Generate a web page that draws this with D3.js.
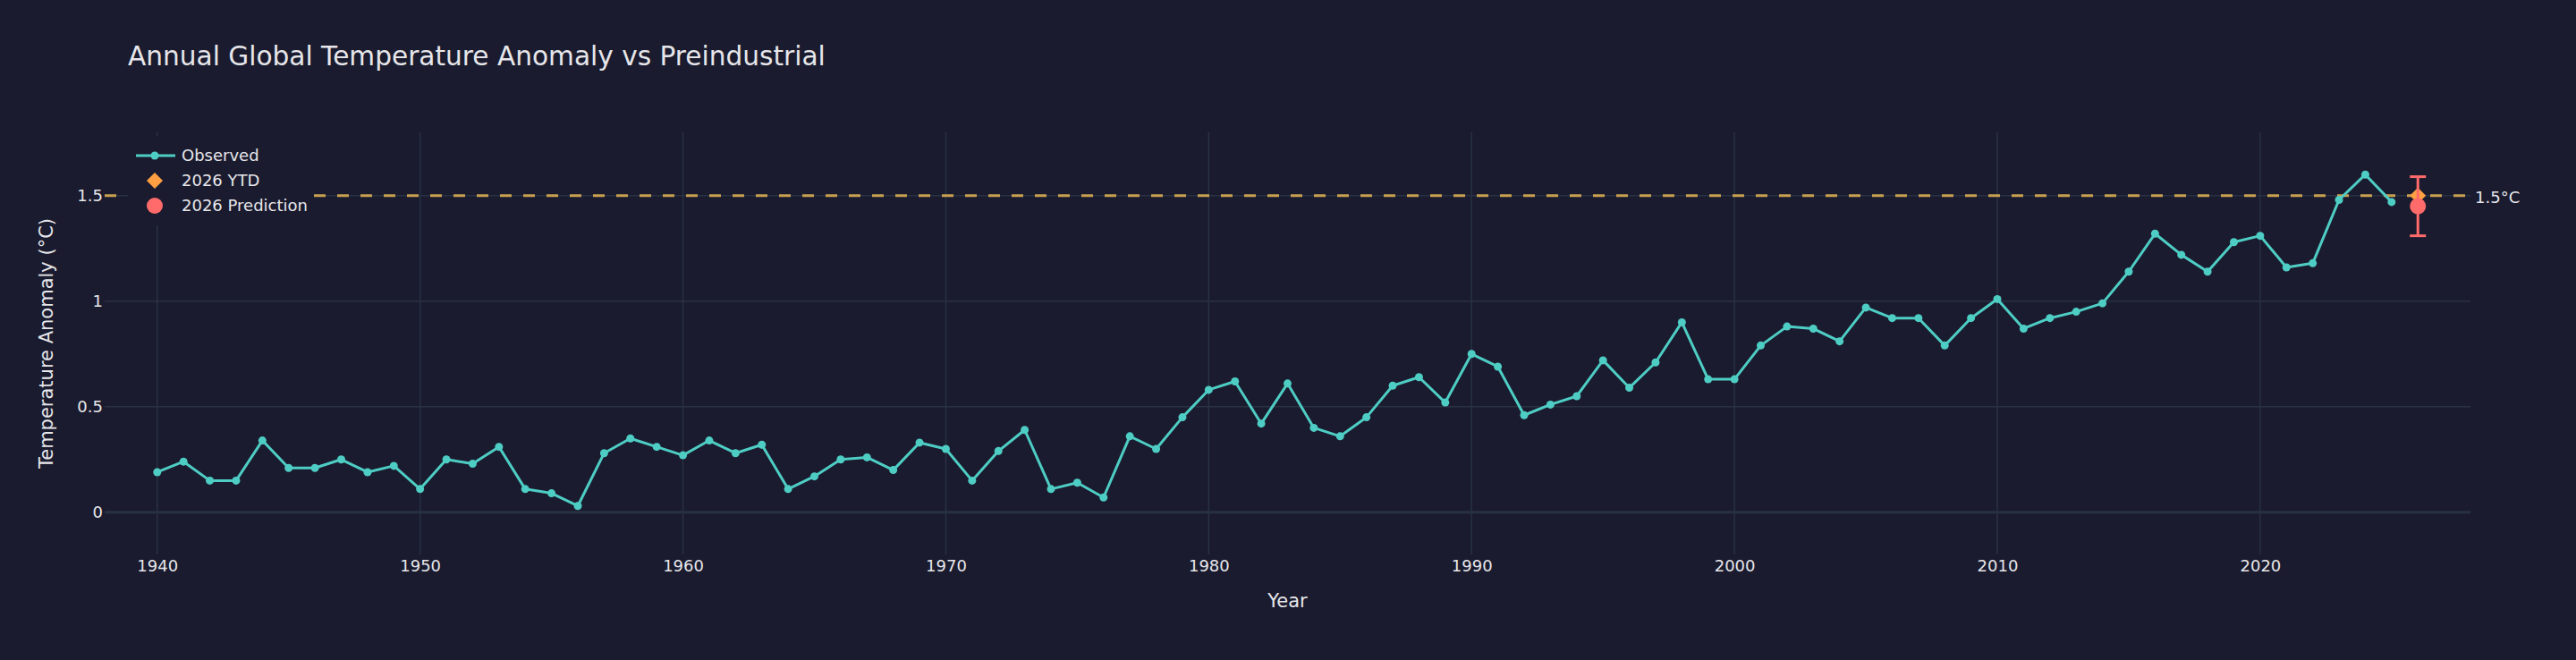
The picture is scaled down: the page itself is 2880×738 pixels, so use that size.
<!DOCTYPE html>
<html>
<head>
<meta charset="utf-8">
<script src="https://cdn.jsdelivr.net/npm/d3@7"></script>
<style>
  body { margin: 0; background: #1a1b2e; }
  svg { display: block; font-family: "DejaVu Sans", Verdana, sans-serif; }
</style>
</head>
<body>
<svg id="chart"></svg>
<script>
// data
var years = [
  1940, 1941, 1942, 1943, 1944, 1945, 1946, 1947, 1948, 1949,
  1950, 1951, 1952, 1953, 1954, 1955, 1956, 1957, 1958, 1959,
  1960, 1961, 1962, 1963, 1964, 1965, 1966, 1967, 1968, 1969,
  1970, 1971, 1972, 1973, 1974, 1975, 1976, 1977, 1978, 1979,
  1980, 1981, 1982, 1983, 1984, 1985, 1986, 1987, 1988, 1989,
  1990, 1991, 1992, 1993, 1994, 1995, 1996, 1997, 1998, 1999,
  2000, 2001, 2002, 2003, 2004, 2005, 2006, 2007, 2008, 2009,
  2010, 2011, 2012, 2013, 2014, 2015, 2016, 2017, 2018, 2019,
  2020, 2021, 2022, 2023, 2024, 2025
];
var anomaly = [
  0.19, 0.24, 0.15, 0.15, 0.34, 0.21, 0.21, 0.25, 0.19, 0.22,
  0.11, 0.25, 0.23, 0.31, 0.11, 0.09, 0.03, 0.28, 0.35, 0.31,
  0.27, 0.34, 0.28, 0.32, 0.11, 0.17, 0.25, 0.26, 0.20, 0.33,
  0.30, 0.15, 0.29, 0.39, 0.11, 0.14, 0.07, 0.36, 0.30, 0.45,
  0.58, 0.62, 0.42, 0.61, 0.40, 0.36, 0.45, 0.60, 0.64, 0.52,
  0.75, 0.69, 0.46, 0.51, 0.55, 0.72, 0.59, 0.71, 0.90, 0.63,
  0.63, 0.79, 0.88, 0.87, 0.81, 0.97, 0.92, 0.92, 0.79, 0.92,
  1.01, 0.87, 0.92, 0.95, 0.99, 1.14, 1.32, 1.22, 1.14, 1.28,
  1.31, 1.16, 1.18, 1.48, 1.60, 1.47
];

var ytdYear = [2026];
var ytdValue = [1.50];

var predYear = [2026];
var predValue = [1.45];
var predError = [0.14];

var threshold = 1.5;
var thresholdLabel = "1.5°C";

var xTicks = [1940, 1950, 1960, 1970, 1980, 1990, 2000, 2010, 2020];
var yTicks = [0, 0.5, 1, 1.5];

var legendNames = ["Observed", "2026 YTD", "2026 Prediction"];

var dataset = years.map(function(y, i) { return {year: y, value: anomaly[i]}; });

// layout
var W = 2880, H = 738;
var margin = {top: 148, right: 118, bottom: 118, left: 117};
var width = W - margin.left - margin.right;
var height = H - margin.top - margin.bottom;

var bg = "#1a1b2e";
var gridColor = "#283243";
var textColor = "#e6e6ea";
var teal = "#4ecdc4";
var gold = "#c9a04f";
var orange = "#ff9f43";
var red = "#ff6b6b";

var xScale = d3.scaleLinear()
    .domain([1938, 2028])
    .range([0, width]);

var yScale = d3.scaleLinear()
    .domain([-0.2, 1.8])
    .range([height, 0]);

var svgRoot = d3.select("#chart")
    .attr("width", W)
    .attr("height", H)
    .style("background", bg);

// title
svgRoot.append("text")
    .attr("x", 143)
    .attr("y", 73)
    .attr("fill", textColor)
    .style("font-size", "29.6px")
    .text("Annual Global Temperature Anomaly vs Preindustrial");

var svg = svgRoot.append("g")
    .attr("transform", "translate(" + margin.left + "," + margin.top + ")");

// grid
svg.append("g")
    .selectAll("line")
    .data(xTicks)
  .enter().append("line")
    .attr("x1", function(d) { return xScale(d); })
    .attr("x2", function(d) { return xScale(d); })
    .attr("y1", 0)
    .attr("y2", height)
    .attr("stroke", gridColor)
    .attr("stroke-width", 1.5);

svg.append("g")
    .selectAll("line")
    .data(yTicks.filter(function(d) { return d !== 0; }))
  .enter().append("line")
    .attr("x1", 0)
    .attr("x2", width)
    .attr("y1", function(d) { return yScale(d); })
    .attr("y2", function(d) { return yScale(d); })
    .attr("stroke", gridColor)
    .attr("stroke-width", 1.5);

// zero line
svg.append("line")
    .attr("x1", 0)
    .attr("x2", width)
    .attr("y1", yScale(0))
    .attr("y2", yScale(0))
    .attr("stroke", "#283142")
    .attr("stroke-width", 3);

// axes (labels only)
var xAxis = svg.append("g")
    .attr("transform", "translate(0," + height + ")")
    .call(d3.axisBottom(xScale).tickValues(xTicks).tickFormat(d3.format("d")).tickSize(0).tickPadding(6));

var yAxis = svg.append("g")
    .call(d3.axisLeft(yScale).tickValues(yTicks).tickFormat(function(d) { return String(d); }).tickSize(0).tickPadding(2));

[xAxis, yAxis].forEach(function(ax) {
  ax.select(".domain").remove();
  ax.selectAll("text")
      .attr("fill", textColor)
      .style("font-size", "18px")
      .style("font-family", "DejaVu Sans, Verdana, sans-serif");
});

// axis titles
svg.append("text")
    .attr("x", width / 2)
    .attr("y", height + 59)
    .attr("text-anchor", "middle")
    .attr("fill", textColor)
    .style("font-size", "21px")
    .text("Year");

svg.append("text")
    .attr("transform", "translate(" + (-58) + "," + (height / 2) + ") rotate(-90)")
    .attr("text-anchor", "middle")
    .attr("fill", textColor)
    .style("font-size", "21px")
    .text("Temperature Anomaly (°C)");

// 1.5 threshold line
svg.append("line")
    .attr("x1", 0)
    .attr("x2", width)
    .attr("y1", yScale(threshold))
    .attr("y2", yScale(threshold))
    .attr("stroke", gold)
    .attr("stroke-width", 3)
    .attr("stroke-dasharray", "13,13");

svgRoot.append("text")
    .attr("x", margin.left + width + 5)
    .attr("y", margin.top + yScale(threshold))
    .attr("dy", "0.45em")
    .attr("fill", textColor)
    .style("font-size", "18px")
    .text(thresholdLabel);

// observed line
var line = d3.line()
    .x(function(d) { return xScale(d.year); })
    .y(function(d) { return yScale(d.value); });

svg.append("path")
    .datum(dataset)
    .attr("fill", "none")
    .attr("stroke", teal)
    .attr("stroke-width", 3)
    .attr("stroke-linejoin", "round")
    .attr("d", line);

svg.selectAll(".dot")
    .data(dataset)
  .enter().append("circle")
    .attr("class", "dot")
    .attr("cx", function(d) { return xScale(d.year); })
    .attr("cy", function(d) { return yScale(d.value); })
    .attr("r", 4.5)
    .attr("fill", teal);

// 2026 YTD diamond
var diamond = d3.symbol().type(d3.symbolDiamond2).size(206);
svg.selectAll(".ytd")
    .data(ytdYear)
  .enter().append("path")
    .attr("class", "ytd")
    .attr("transform", function(d, i) { return "translate(" + xScale(d) + "," + yScale(ytdValue[i]) + ")"; })
    .attr("d", diamond)
    .attr("fill", orange);

// 2026 prediction with error bar
var pred = svg.selectAll(".pred")
    .data(predYear)
  .enter().append("g")
    .attr("class", "pred");

pred.append("line")
    .attr("x1", function(d) { return xScale(d); })
    .attr("x2", function(d) { return xScale(d); })
    .attr("y1", function(d, i) { return yScale(predValue[i] + predError[i]); })
    .attr("y2", function(d, i) { return yScale(predValue[i] - predError[i]); })
    .attr("stroke", red)
    .attr("stroke-width", 3);

[1, -1].forEach(function(s) {
  pred.append("line")
      .attr("x1", function(d) { return xScale(d) - 9; })
      .attr("x2", function(d) { return xScale(d) + 9; })
      .attr("y1", function(d, i) { return yScale(predValue[i] + s * predError[i]); })
      .attr("y2", function(d, i) { return yScale(predValue[i] + s * predError[i]); })
      .attr("stroke", red)
      .attr("stroke-width", 3);
});

pred.append("circle")
    .attr("cx", function(d) { return xScale(d); })
    .attr("cy", function(d, i) { return yScale(predValue[i]); })
    .attr("r", 9)
    .attr("fill", red);

// legend
var legend = svgRoot.append("g");

legend.append("rect")
    .attr("x", 143)
    .attr("y", 152)
    .attr("width", 208)
    .attr("height", 100)
    .attr("fill", bg);

var rows = legend.selectAll(".row")
    .data(legendNames)
  .enter().append("g")
    .attr("transform", function(d, i) { return "translate(173," + (174 + i * 28) + ")"; });

rows.append("text")
    .attr("x", 30)
    .attr("dy", "0.35em")
    .attr("fill", textColor)
    .style("font-size", "18px")
    .text(function(d) { return d; });

rows.filter(function(d, i) { return i === 0; })
  .append("line")
    .attr("x1", -21)
    .attr("x2", 23)
    .attr("stroke", teal)
    .attr("stroke-width", 3);

rows.filter(function(d, i) { return i === 0; })
  .append("circle")
    .attr("r", 4.5)
    .attr("fill", teal);

rows.filter(function(d, i) { return i === 1; })
  .append("path")
    .attr("d", diamond)
    .attr("fill", orange);

rows.filter(function(d, i) { return i === 2; })
  .append("circle")
    .attr("r", 9)
    .attr("fill", red);
</script>
</body>
</html>
